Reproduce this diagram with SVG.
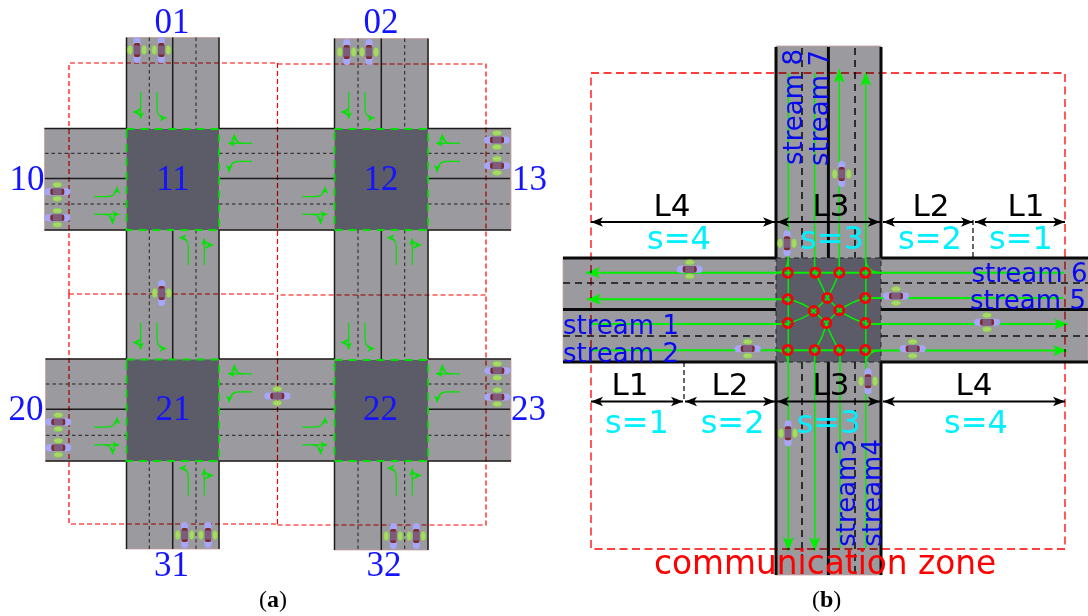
<svg xmlns="http://www.w3.org/2000/svg" xmlns:xlink="http://www.w3.org/1999/xlink" width="1088" height="616" viewBox="0 0 1088 616">
<style>
.road{fill:#9a9a9f;stroke:#c9a0a0;stroke-width:.8}
.box{fill:#5c5c68}
.edgeA{fill:none;stroke:#1c1c1c;stroke-width:1.5}
.dashA{fill:none;stroke:#222;stroke-width:1;stroke-dasharray:3.5 3}
.zoneA{fill:none;stroke:#ff0000;stroke-width:1.2;stroke-dasharray:5 3;mix-blend-mode:multiply}
.gbox{fill:none;stroke:#00e000;stroke-width:1.8;stroke-dasharray:8 6}
.ga{fill:none;stroke:#00e400;stroke-width:1.2}
.edgeB{fill:none;stroke:#0a0a0a;stroke-width:3}
.dashB{fill:none;stroke:#111;stroke-width:1.6;stroke-dasharray:7 5}
.boxdash{fill:none;stroke:#222;stroke-width:1;stroke-dasharray:5 4}
.gb{fill:none;stroke:#00ee00;stroke-width:1.9}
.gc{fill:none;stroke:#00ee00;stroke-width:1.5}
.conf{fill:none;stroke:#f80000;stroke-width:2.7}
.dim{fill:none;stroke:#000;stroke-width:2;marker-start:url(#dimS);marker-end:url(#dimE)}
.tick{fill:none;stroke:#000;stroke-width:1.2;stroke-dasharray:5 3}
.zoneB{fill:none;stroke:#ff0000;stroke-width:1.3;stroke-dasharray:8 4.500;mix-blend-mode:multiply}
.num{font-family:"Liberation Serif",serif;font-size:35px;fill:#1414ff}
.mid{text-anchor:middle}
.lab{font-family:"DejaVu Sans",sans-serif;font-size:31px;fill:#000}
.s{font-family:"DejaVu Sans",sans-serif;font-size:32px;fill:#00f0ff}
.st{font-family:"DejaVu Sans",sans-serif;font-size:26px;fill:#0808f0}
.zone{font-family:"DejaVu Sans",sans-serif;font-size:32.8px;fill:#ff0000}
.cap{font-family:"Liberation Serif",serif;font-size:24px;fill:#000}
.capb{font-weight:bold}
</style>
<defs>
<marker id="ah" markerUnits="userSpaceOnUse" markerWidth="9" markerHeight="9" refX="7" refY="4.500" orient="auto"><path d="M0 1 L7 4.500 L0 8 L2 4.500Z" fill="#00e400"/></marker>
<marker id="ahB" markerUnits="userSpaceOnUse" markerWidth="16" markerHeight="12" refX="14" refY="6" orient="auto"><path d="M0 .5 L14 6 L0 11.500 L3.500 6Z" fill="#00ee00"/></marker>
<marker id="dimE" markerUnits="userSpaceOnUse" markerWidth="13" markerHeight="11" refX="12" refY="5.500" orient="auto"><path d="M0 .8 L12 5.500 L0 10.200 L3 5.500Z" fill="#000"/></marker>
<marker id="dimS" markerUnits="userSpaceOnUse" markerWidth="13" markerHeight="11" refX="1" refY="5.500" orient="auto"><path d="M13 .8 L1 5.500 L13 10.200 L10 5.500Z" fill="#000"/></marker>
<g id="car">
<ellipse cx="-7" cy="0" rx="2.500" ry="4.500" fill="#a8d868" stroke="#7fd82c" stroke-width="1" stroke-dasharray="1.500 1"/>
<ellipse cx="7" cy="0" rx="2.500" ry="4.500" fill="#a8d868" stroke="#7fd82c" stroke-width="1" stroke-dasharray="1.500 1"/>
<rect x="-3.500" y="-13" width="7" height="26" rx="3.500" fill="#a6a6fa"/>
<rect x="-3.200" y="-7" width="6.400" height="14" rx="2" fill="#7c2a2a"/>
<rect x="-3.200" y="-4.500" width="6.400" height="9" fill="#805c7c"/>
</g>
<g id="turns">
<path class="ga" d="M14.200 -37V-10" marker-end="url(#ah)"/><path class="ga" d="M14.200 -22Q14 -17 6.500 -17" marker-end="url(#ah)"/>
<path class="ga" d="M30.500 -37V-20Q30.500 -11 40 -11" marker-end="url(#ah)"/>
<path class="ga" d="M125.500 14.300H101.500" marker-end="url(#ah)"/><path class="ga" d="M116 14.300Q108 14 107.800 5" marker-end="url(#ah)"/>
<path class="ga" d="M125.500 32.300H112Q103 32.300 102.500 43" marker-end="url(#ah)"/>
<path class="ga" d="M61.800 136V117Q61.800 108.700 52.800 108.700" marker-end="url(#ah)"/>
<path class="ga" d="M77.800 136V109.300" marker-end="url(#ah)"/><path class="ga" d="M77.800 122Q78 116 86.800 116" marker-end="url(#ah)"/>
<path class="ga" d="M-32.200 67.700H-20Q-10 67.700 -9.200 57.700" marker-end="url(#ah)"/>
<path class="ga" d="M-32.200 85.300H-7.200" marker-end="url(#ah)"/><path class="ga" d="M-22 85.300Q-14 85.500 -13.800 95" marker-end="url(#ah)"/>
</g>
</defs>
<g id="panel-a-roads">
<rect class="road" x="44.500" y="128.500" width="466.500" height="101.500"/>
<rect class="road" x="45.500" y="359" width="465.500" height="102"/>
<rect class="road" x="126.500" y="37.500" width="92.500" height="511.500"/>
<rect class="road" x="334.500" y="38.500" width="93.500" height="511.500"/>
<path class="edgeA" d="M44.500 128.500H126.500M219 128.500H334.500M428 128.500H511M44.500 230H126.500M219 230H334.500M428 230H511M45.500 359H126.500M219 359H334.500M428 359H511M45.500 461H126.500M219 461H334.500M428 461H511"/>
<path class="edgeA" d="M126.500 37.500V129M219 37.500V129M126.500 230V359M219 230V359M126.500 461V549M219 461V549M334.500 38.500V129M428 38.500V129M334.500 230V359M428 230V359M334.500 461V550M428 461V550"/>
<path class="edgeA" d="M45 178.500H126.500M219 178.500H334.500M428 178.500H510M46 409.300H126.500M219 409.300H334.500M428 409.300H510M172.700 37.500V129M172.700 230V359M172.700 461V549M381.300 38.500V129M381.300 230V359M381.300 461V550"/>
<path class="dashA" d="M45 153.300H126.500M219 153.300H334.500M428 153.300H510M45 204H126.500M219 204H334.500M428 204H510M46 384H126.500M219 384H334.500M428 384H510M46 435.300H126.500M219 435.300H334.500M428 435.300H510"/>
<path class="dashA" d="M149.300 37.500V129M149.300 230V359M149.300 461V549M196 37.500V129M196 230V359M196 461V549M358 38.500V129M358 230V359M358 461V550M404.700 38.500V129M404.700 230V359M404.700 461V550"/>
</g>
<g id="node-11"><rect class="box" x="126.500" y="129" width="92.500" height="101"/><rect class="gbox" x="126.500" y="129" width="92.500" height="101"/><text class="num mid" x="173" y="190">11</text></g>
<g id="node-12"><rect class="box" x="334.500" y="129" width="93.500" height="101"/><rect class="gbox" x="334.500" y="129" width="93.500" height="101"/><text class="num mid" x="381" y="190">12</text></g>
<g id="node-21"><rect class="box" x="126.500" y="359.500" width="92.500" height="101.500"/><rect class="gbox" x="126.500" y="359.500" width="92.500" height="101.500"/><text class="num mid" x="173" y="419.500">21</text></g>
<g id="node-22"><rect class="box" x="334.500" y="360" width="93.500" height="101"/><rect class="gbox" x="334.500" y="360" width="93.500" height="101"/><text class="num mid" x="380.500" y="419.500">22</text></g>
<g id="panel-a-connectors">
<use xlink:href="#turns" href="#turns" x="126.500" y="129"/>
<use xlink:href="#turns" href="#turns" x="334.500" y="129"/>
<use xlink:href="#turns" href="#turns" x="126.500" y="359.500"/>
<use xlink:href="#turns" href="#turns" x="334.500" y="359.500"/>
</g>
<g id="panel-a-zones">
<path class="zoneA" d="M69 294V63H277.500"/>
<path class="zoneA" d="M277.500 64H486V295H277.500"/>
<path class="zoneA" d="M69 294H277.500"/>
<path class="zoneA" d="M277.500 63V524"/>
<path class="zoneA" d="M69 294V524H277.500"/>
<path class="zoneA" d="M277.500 525H486V295"/>
</g>
<g id="panel-a-cars">
<use href="#car" transform="translate(137 50)"/><use href="#car" transform="translate(161.300 50)"/>
<use href="#car" transform="translate(346.700 52)"/><use href="#car" transform="translate(369 52)"/>
<use href="#car" transform="translate(161.700 293)"/>
<use href="#car" transform="translate(184.700 535)"/><use href="#car" transform="translate(208 535)"/>
<use href="#car" transform="translate(393.300 536)"/><use href="#car" transform="translate(416.300 536)"/>
<use href="#car" transform="translate(57.300 191.700) rotate(90)"/><use href="#car" transform="translate(57.300 217.700) rotate(90)"/>
<use href="#car" transform="translate(497 140) rotate(90)"/><use href="#car" transform="translate(497 165.700) rotate(90)"/>
<use href="#car" transform="translate(58.300 422) rotate(90)"/><use href="#car" transform="translate(58.300 447.700) rotate(90)"/>
<use href="#car" transform="translate(277.300 396) rotate(90)"/>
<use href="#car" transform="translate(497.300 370.700) rotate(90)"/><use href="#car" transform="translate(497.300 397) rotate(90)"/>
</g>
<g id="node-labels">
<text class="num mid" x="172" y="33">01</text><text class="num mid" x="381" y="33">02</text>
<text class="num mid" x="27" y="190">10</text><text class="num" x="512" y="190">13</text>
<text class="num mid" x="26" y="419.500">20</text><text class="num" x="511" y="419.500">23</text>
<text class="num mid" x="171.500" y="576">31</text><text class="num mid" x="384" y="576">32</text>
</g>
<g id="panel-b-roads">
<rect class="road" x="563" y="258" width="525" height="104"/>
<rect class="road" x="776" y="46" width="105" height="529"/>
<rect class="box" x="776" y="258" width="105" height="104"/>
<rect class="boxdash" x="776" y="258" width="105" height="104"/>
<path class="edgeB" d="M776 47V258M881 47V258M828.400 47V258M776 362V575M881 362V575M828.400 362V575M563 258H776M881 258H1088M563 362H776M881 362H1088M563 309.500H776M881 309.500H1088"/>
<path class="dashB" d="M802 48V258M855 48V258M802 362V575M855 362V575M563 283H776M881 283H1088M563 336H776M881 336H1088"/>
</g>
<g id="panel-b-connectors">
<path class="gb" d="M881 272.700H586" marker-end="url(#ahB)"/>
<path class="gb" d="M788 299.300H587" marker-end="url(#ahB)"/>
<path class="gb" d="M591 324H788"/>
<path class="gb" d="M591 350.300H865.300"/>
<path class="gb" d="M865.300 324H1068" marker-end="url(#ahB)"/>
<path class="gb" d="M865.300 350.500H1067" marker-end="url(#ahB)"/>
<path class="gb" d="M881 272.700H1064M1063 298H865.300"/>
<path class="gc" d="M788.300 73V551" marker-end="url(#ahB)"/>
<path class="gc" d="M814.600 73V272.700M814.700 350V551" marker-end="url(#ahB)"/>
<path class="gc" d="M840 548V350M839.300 272.700V69" marker-end="url(#ahB)"/>
<path class="gc" d="M865.800 548V72" marker-end="url(#ahB)"/>
<path class="gc" d="M788 258Q788 272.700 776 272.700M865.300 258Q866 272.700 881 272.700M776 350.300Q788 351 788 364M881 350.300Q866 351 865.800 364"/>
<path class="gc" d="M787.700 299.300Q802 302 813.700 311Q820 317 826.300 323Q824 336 814.700 350M787.700 323Q802 320 813.700 311Q821 305 827.300 298Q834 286 839.300 272.700M865.300 298Q851 302 839.300 310.300Q833 316 826.300 323Q831 337 839.300 350M865.300 323Q851 319 839.300 310.300Q833 304 827.300 298Q822 286 815.300 272.700"/>
<g class="conf">
<circle cx="787.700" cy="272.700" r="4.600"/><circle cx="815.300" cy="272.700" r="4.600"/><circle cx="839.300" cy="272.700" r="4.600"/><circle cx="865.300" cy="272.700" r="4.600"/>
<circle cx="787.700" cy="299.300" r="4.600"/><circle cx="865.300" cy="298" r="4.600"/><circle cx="827.300" cy="298" r="4.600"/>
<circle cx="813.700" cy="311" r="4.600"/><circle cx="839.300" cy="310.300" r="4.600"/><circle cx="826.300" cy="323" r="4.600"/>
<circle cx="787.700" cy="323" r="4.600"/><circle cx="865.300" cy="323" r="4.600"/>
<circle cx="787.700" cy="350" r="4.600"/><circle cx="814.700" cy="350" r="4.600"/><circle cx="839.300" cy="350" r="4.600"/><circle cx="865.300" cy="350" r="4.600"/>
</g>
</g>
<g id="panel-b-cars">
<use href="#car" transform="translate(841.700 174)"/><use href="#car" transform="translate(787 243.300)"/>
<use href="#car" transform="translate(868 381.300)"/><use href="#car" transform="translate(788 433.300)"/>
<use href="#car" transform="translate(689.700 269.300) rotate(90)"/><use href="#car" transform="translate(896 296) rotate(90)"/>
<use href="#car" transform="translate(987 322.300) rotate(90)"/><use href="#car" transform="translate(912.700 348.700) rotate(90)"/>
<use href="#car" transform="translate(747.700 348.700) rotate(90)"/>
</g>
<rect id="communication-zone" class="zoneB" x="591" y="73" width="474" height="476"/>
<g id="dimensions">
<path class="dim" d="M591 222H775"/><path class="dim" d="M777 222H880"/><path class="dim" d="M883 222H973"/><path class="dim" d="M975 222H1065"/>
<path class="dim" d="M591 401.500H683"/><path class="dim" d="M685 401.500H775"/><path class="dim" d="M777 401.500H880"/><path class="dim" d="M883 401.500H1065"/>
<path class="tick" d="M973 220V258M684 362V401"/>
<text class="lab" x="653.500" y="215.700">L4</text><text class="lab" x="812.500" y="215.700">L3</text><text class="lab" x="912.500" y="215.700">L2</text><text class="lab" x="1007.500" y="215.700">L1</text>
<text class="lab" x="611.500" y="395">L1</text><text class="lab" x="711.500" y="395">L2</text><text class="lab" x="812.500" y="395">L3</text><text class="lab" x="955.500" y="395">L4</text>
<text class="s" x="647" y="249">s=4</text><text class="s" x="800" y="249">s=3</text><text class="s" x="898" y="249">s=2</text><text class="s" x="989" y="249">s=1</text>
<text class="s" x="605" y="433">s=1</text><text class="s" x="700.700" y="433">s=2</text><text class="s" x="796.700" y="433">s=3</text><text class="s" x="944" y="433">s=4</text>
</g>
<g id="stream-labels">
<text class="st" x="563" y="334">stream 1</text><text class="st" x="563" y="361.700">stream 2</text>
<text class="st" x="971.500" y="281.700">stream 6</text><text class="st" x="970" y="309">stream 5</text>
<text class="st" transform="translate(801.700 165) rotate(-90)">stream 8</text>
<text class="st" transform="translate(827.700 166) rotate(-90)">stream 7</text>
<text class="st" transform="translate(855 546.700) rotate(-90)">stream3</text>
<text class="st" transform="translate(880.700 546.700) rotate(-90)">stream4</text>
</g>
<text class="zone" x="654" y="574">communication zone</text>
<g id="captions">
<text class="cap" x="259" y="607">(<tspan class="capb">a</tspan>)</text>
<text class="cap" x="812" y="607">(<tspan class="capb">b</tspan>)</text>
</g>
</svg>
